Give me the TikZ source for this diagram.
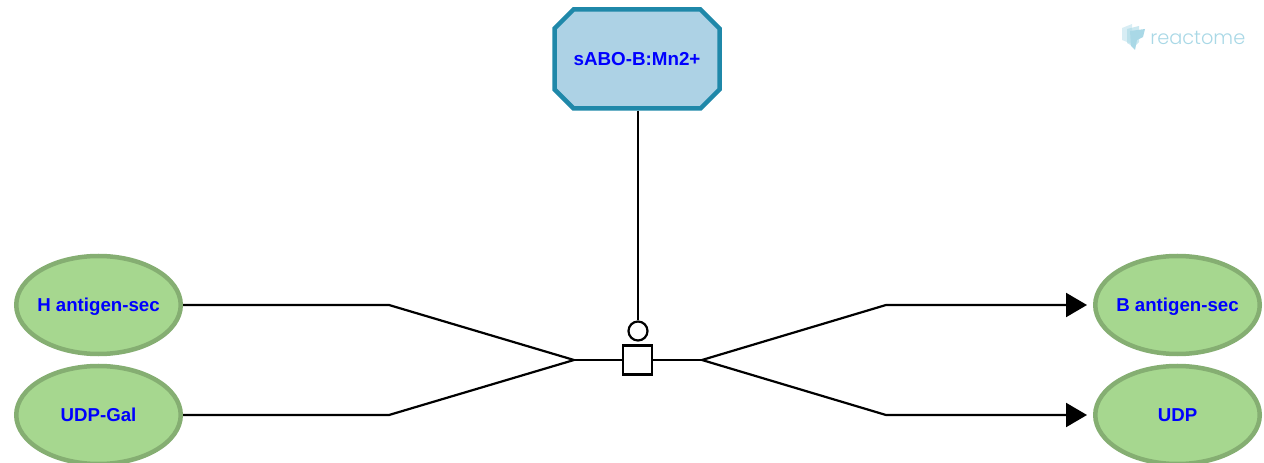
\documentclass[tikz,border=0pt]{standalone}
\usepackage{fontspec}
\setmainfont{Liberation Sans}
\newfontfamily\logofont{Poppins Light}
\usetikzlibrary{shapes.geometric,shapes.misc,arrows.meta}
\definecolor{entityFill}{HTML}{A6D78F}
\definecolor{entityEdge}{HTML}{85AE72}
\definecolor{complexFill}{HTML}{ADD2E5}
\definecolor{complexEdge}{HTML}{1F88A9}
\definecolor{logoBlue}{HTML}{A9D8E6}
\newlength{\pix}
\setlength{\pix}{0.75pt}
\tikzstyle{entity} = [ellipse, minimum width=164.5\pix, minimum height=98\pix, inner xsep=-10\pix, inner ysep=0pt, draw=entityEdge, fill=entityFill, line width=4.5\pix, text=blue, text depth=0pt, font=\fontsize{14}{16}\bfseries]
\tikzstyle{enzyme} = [chamfered rectangle, chamfered rectangle xsep=12.5\pix, chamfered rectangle ysep=12.5\pix, minimum width=165\pix, minimum height=99\pix, inner sep=0pt, draw=complexEdge, fill=complexFill, line width=4.5\pix, text=blue, text depth=0pt, font=\fontsize{14.1}{16}\bfseries]
\tikzstyle{link} = [line width=2.2\pix, black]
\tikzstyle{arrow} = [link, -{Triangle[length=15.75pt, width=18pt]}, shorten >=4.5pt]
\tikzset{process/.style={rectangle, draw, fill=white, line width=2.2\pix, minimum size=29\pix, inner sep=0pt},catalyst/.style={circle, draw, fill=white, line width=2.2\pix, minimum size=19\pix, inner sep=0pt}}
\begin{document}
\begin{tikzpicture}[x=\pix,y=-\pix]
    \useasboundingbox (0,0) rectangle (1264,463);

    \node [entity] (hAntigen) at (98.5,305) {H antigen-sec};
    \node [entity] (udpGal) at (98.5,415) {UDP-Gal};
    \node [entity] (bAntigen) at (1177.5,305) {B antigen-sec};
    \node [entity] (udp) at (1177.5,415) {UDP};
    \node [enzyme] (sabo) at (637,59) {sABO-B:Mn2+};

    \node [process] (reaction) at (637.8,360) {};
    \node [catalyst] (activator) at (638,331) {};

    \coordinate (bendH) at (389,305);
    \coordinate (bendGal) at (389,415);
    \coordinate (mergeIn) at (574,360);
    \coordinate (mergeOut) at (702,360);
    \coordinate (bendB) at (886,305);
    \coordinate (bendUdp) at (886,415);

    \draw [link] (hAntigen.east) -- (bendH) -- (mergeIn);
    \draw [link] (udpGal.east) -- (bendGal) -- (mergeIn);
    \draw [link] (mergeIn) -- (reaction.west);
    \draw [link] (reaction.east) -- (mergeOut);
    \draw [arrow] (mergeOut) -- (bendB) -- (bAntigen.west);
    \draw [arrow] (mergeOut) -- (bendUdp) -- (udp.west);
    \draw [link] (sabo.south -| activator) -- (activator.north);

    % logo
    \fill [logoBlue, opacity=.45] (1122,28) -- (1132,24) -- (1132,44) -- (1122,40) -- cycle;
    \fill [logoBlue, opacity=.6] (1127,29) -- (1139,26) -- (1139,42) -- (1134,47) -- (1127,43) -- cycle;
    \fill [logoBlue] (1130,31) -- (1145,29) -- (1143,37) -- (1137,40) -- (1135,50) -- (1131,46) -- cycle;
    \node [inner sep=0pt, anchor=west, text=logoBlue, font=\logofont\fontsize{14.5}{16}\selectfont] (logo) at (1150,38) {reactome};
\end{tikzpicture}
\end{document}
